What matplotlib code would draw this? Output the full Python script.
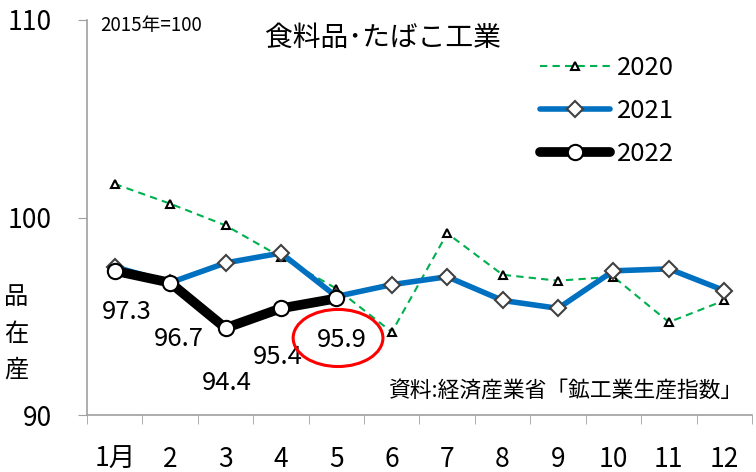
import matplotlib
matplotlib.use("Agg")
import matplotlib.pyplot as plt
from matplotlib.patches import Ellipse
import numpy as np

plt.rcParams['font.family'] = ['Noto Sans CJK JP', 'DejaVu Sans']

months = ["1月", "2", "3", "4", "5", "6", "7", "8", "9", "10", "11", "12"]
v2020 = [101.7, 100.7, 99.6, 98.0, 96.4, 94.2, 99.2, 97.1, 96.8, 97.0, 94.7, 95.8]
v2021 = [97.5, 96.7, 97.7, 98.2, 96.0, 96.6, 97.0, 95.8, 95.4, 97.3, 97.4, 96.3]
v2022 = [97.3, 96.7, 94.4, 95.4, 95.9]
labels2022 = ["97.3", "96.7", "94.4", "95.4", "95.9"]
yticks = [90, 100, 110]

fig = plt.figure(figsize=(7.56, 4.72), dpi=100)
ax = fig.add_axes([87/756, 1-415/472, (752-87)/756, (415-20)/472])

x20 = np.arange(len(v2020))
x21 = np.arange(len(v2021))
x22 = np.arange(len(v2022))

ax.plot(x20, v2020, color='#00B050', lw=1.5, ls=(0, (3.5, 2.5)), marker='^',
        ms=6, mfc='white', mec='black', mew=1.5, label='2020', zorder=2)
ax.plot(x21, v2021, color='#0070C0', lw=4, marker='D', ms=8, mfc='white',
        mec='#404040', mew=1.5, label='2021', zorder=3, solid_capstyle='round')
ax.plot(x22, v2022, color='black', lw=7, marker='o', ms=11, mfc='white',
        mec='black', mew=1.5, label='2022', zorder=4, solid_capstyle='round')

# data labels (offsets in points)
offsets = [(8.6, -29.8), (6.5, -40.8), (0.7, -39.5), (-2.2, -35.2), (3.6, -30.2)]
for xi, yi, lab, (dx, dy) in zip(x22, v2022, labels2022, offsets):
    ax.annotate(lab, (xi, yi), xytext=(dx, dy), textcoords='offset points',
                ha='center', va='center', fontsize=18.5, zorder=5)

ell = Ellipse((4.03, 93.9), width=1.62, height=2.89, fill=False,
              edgecolor='#FF0000', lw=2.2, zorder=5)
ax.add_patch(ell)

ax.set_xlim(-0.5, 11.5)
ax.set_ylim(90, 110)
ax.set_yticks(yticks)
ax.set_yticklabels([str(t) for t in yticks], fontsize=19)
ax.set_xticks(x20)
ax.set_xticklabels(months, fontsize=19)
ax.set_xticks(np.arange(-0.5, 12, 1), minor=True)
ax.tick_params(axis='x', which='major', length=0, pad=22)
ax.tick_params(axis='x', which='minor', length=6.5, color='#A0A0A0', direction='out')
ax.tick_params(axis='y', length=6.5, color='#A0A0A0', direction='out', pad=19)
for s in ['top', 'right']:
    ax.spines[s].set_visible(False)
for s in ['left', 'bottom']:
    ax.spines[s].set_color('#A0A0A0')
    ax.spines[s].set_linewidth(1.2)

ax.text(0.02, 0.985, "2015年=100", transform=ax.transAxes, fontsize=13.5,
        ha='left', va='center')
ax.text((383-87)/665, (415-38)/395, "食料品･たばこ工業", transform=ax.transAxes,
        fontsize=20, ha='center', va='center')
ax.text((742-87)/665, (415-392)/395, "資料:経済産業省「鉱工業生産指数」",
        transform=ax.transAxes, fontsize=15.7, ha='right', va='center')

for ch, yy in zip(["品", "在", "産"], [297, 334, 370]):
    fig.text(16/756, 1-yy/472, ch, fontsize=17.5, ha='center', va='center')

leg = ax.legend(loc='upper left', bbox_to_anchor=((540-87)/665, (415-55)/395),
                frameon=False, fontsize=18.5, handlelength=2.72,
                labelspacing=0.66, handletextpad=0.27, borderpad=0,
                borderaxespad=0)

fig.savefig("out.png", dpi=100)
